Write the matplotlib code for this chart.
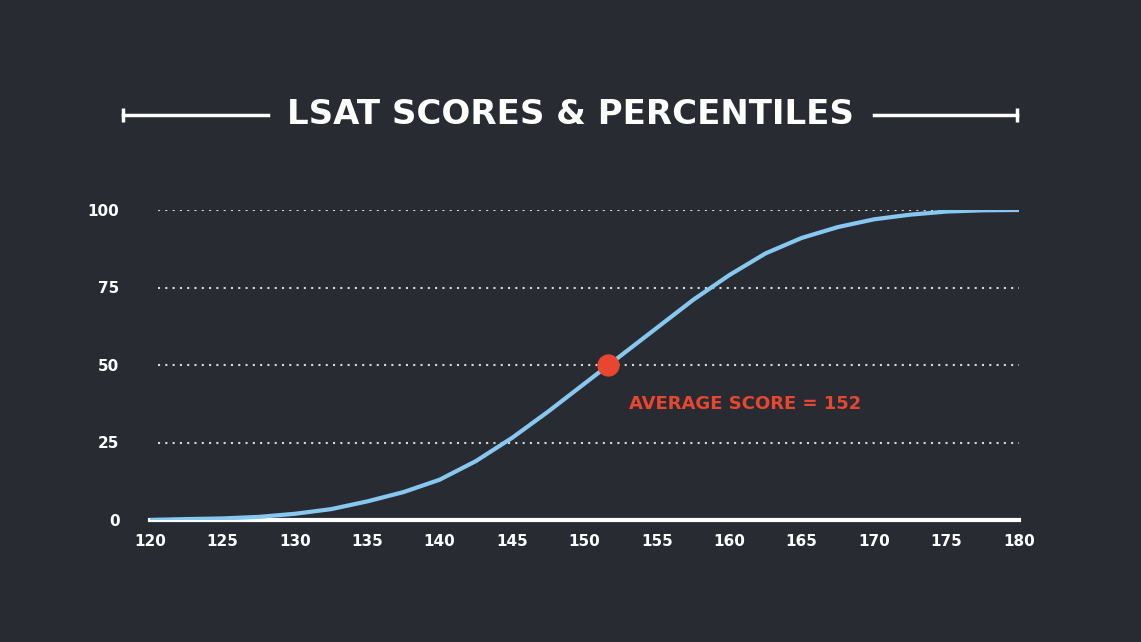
import matplotlib
matplotlib.use("Agg")
import matplotlib.pyplot as plt

scores = [120, 122.5, 125, 127.5, 130, 132.5, 135, 137.5, 140, 142.5, 145, 147.5, 150, 152.5, 155, 157.5, 160, 162.5, 165, 167.5, 170, 172.5, 175, 177.5, 180]
percentiles = [0, 0.3, 0.5, 1, 2, 3.5, 6, 9, 13, 19, 26.5, 35, 44, 53, 62, 71, 79, 86, 91, 94.5, 97, 98.5, 99.5, 99.9, 100]
avg_score = 151.6
avg_pct = 50
yticks = [0, 25, 50, 75, 100]
xticks = list(range(120, 181, 5))

BG = "#292b33"
fig = plt.figure(figsize=(11.41, 6.42), dpi=100, facecolor=BG)
ax = fig.add_axes([150/1141, 1-520/642, 869/1141, 310/642])
ax.set_facecolor(BG)
ax.set_xlim(120, 180)
ax.set_ylim(0, 100)
for y in yticks[1:]:
    ax.axhline(y, xmin=(158-150)/869, color="#d8d8d8", lw=1.5, ls=(0, (1, 2.5)), zorder=1)
ax.plot(scores, percentiles, color="#86c8ef", lw=3, zorder=3, solid_capstyle="round", solid_joinstyle="round")
ax.plot([avg_score], [avg_pct], "o", ms=15, color="#e8472f", zorder=4)
ax.text(avg_score + 1.5, 37.5, "AVERAGE SCORE = 152", color="#e8472f", fontsize=13,
        fontweight="bold", va="center")
for s in ["top", "right", "left"]:
    ax.spines[s].set_visible(False)
ax.spines["bottom"].set_color("white")
ax.spines["bottom"].set_linewidth(3)
ax.set_xticks(xticks)
ax.set_yticks(yticks)
ax.tick_params(length=0, colors="white", labelsize=11, pad=10)
ax.tick_params(axis="y", pad=22)
for lab in ax.get_xticklabels() + ax.get_yticklabels():
    lab.set_fontweight("bold")

fig.text(570/1141, 1-115/642, "LSAT SCORES & PERCENTILES", color="white", fontsize=24.5,
         fontweight="bold", ha="center", va="center")
fig.add_artist(plt.Line2D([123/1141, 268/1141], [1-115/642]*2, color="white", lw=2.5))
fig.add_artist(plt.Line2D([874/1141, 1017/1141], [1-115/642]*2, color="white", lw=2.5))
fig.add_artist(plt.Line2D([123/1141], [1-115/642], marker="|", ms=10, mew=2.5, color="white"))
fig.add_artist(plt.Line2D([1017/1141], [1-115/642], marker="|", ms=10, mew=2.5, color="white"))
fig.savefig("out.png", dpi=100, facecolor=BG)
